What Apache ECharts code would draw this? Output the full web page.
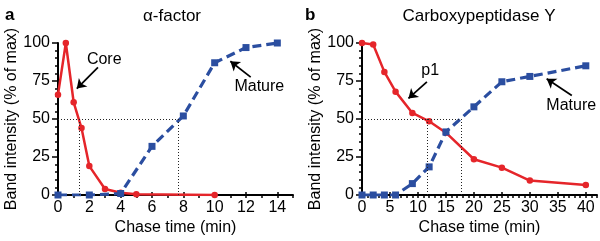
<!DOCTYPE html>
<html>
<head>
<meta charset="utf-8">
<script src="https://cdn.jsdelivr.net/npm/echarts@6/dist/echarts.min.js"></script>
<style>
  html, body { margin: 0; padding: 0; background: #fff; }
  #chart { width: 600px; height: 241px; }
</style>
</head>
<body>
<div id="chart"></div>
<script>
// panel a: alpha-factor
const timeCoreA = [0, 0.5, 1, 1.5, 2, 3, 4, 5, 10];
const coreA = [66, 100, 61, 44, 19, 4, 1.5, 0.5, 0];
const timeMatureA = [0, 2, 4, 6, 8, 10, 12, 14];
const matureA = [0, 0, 1, 32, 52, 87, 97, 100];
// panel b: carboxypeptidase Y
const timeB = [0, 2, 4, 6, 9, 12, 15, 20, 25, 30, 40];
const p1B = [100, 99, 81, 68, 54, 48.5, 41, 23.5, 18, 9.5, 6.5];
const matureB = [0, 0, 0, 0, 7.5, 18.5, 41.5, 58, 74.5, 78, 85];
// time at which each form crosses 50%
const halfA = [1.35, 7.7];
const halfB = [11.6, 17.7];
// tick labels
const xTicksA = [0, 2, 4, 6, 8, 10, 12, 14];
const xTicksB = [0, 5, 10, 15, 20, 25, 30, 35, 40];
const yTicks = [0, 25, 50, 75, 100];

const RED = '#e5252a';
const BLUE = '#2b4ea0';
const FONT = '"Liberation Sans", Arial, Helvetica, sans-serif';

// annotation placement (data coords): text point, arrow start, arrow end
const notesA = [
  { text: 'Core', at: [2.95, 89], from: [2.55, 84], to: [1.2, 70] },
  { text: 'Mature', at: [12.85, 71], from: [12.3, 77.5], to: [11.0, 88] }
];
const notesB = [
  { text: 'p1', at: [12.2, 82], from: [11.6, 74.5], to: [8.3, 63.5] },
  { text: 'Mature', at: [37.4, 58.5], from: [37.5, 65.5], to: [33.0, 76.5] }
];

const toPairs = (xs, ys) => xs.map((x, i) => [x, ys[i]]);

function guideLines(half) {
  const dotted = { color: '#222', width: 1, type: [1, 2] };
  return [
    [{ coord: [0, 50], symbol: 'none', lineStyle: dotted }, { coord: [half[1], 50], symbol: 'none' }],
    [{ coord: [half[0], 0], symbol: 'none', lineStyle: dotted }, { coord: [half[0], 50], symbol: 'none' }],
    [{ coord: [half[1], 0], symbol: 'none', lineStyle: dotted }, { coord: [half[1], 50], symbol: 'none' }]
  ];
}

function arrows(notes) {
  const solid = { color: '#000', width: 1.7, type: 'solid' };
  return notes.map(n => [
    { coord: n.from, symbol: 'none', lineStyle: solid },
    { coord: n.to, symbol: 'arrow', symbolSize: 9 }
  ]);
}

function labels(notes) {
  return notes.map(n => ({ name: n.text, coord: n.at }));
}

function redSeries(data, xi, half) {
  return {
    type: 'line', xAxisIndex: xi, yAxisIndex: xi, data: data,
    symbol: 'circle', symbolSize: 6.5, z: 3,
    lineStyle: { color: RED, width: 2.5 },
    itemStyle: { color: RED },
    markLine: {
      silent: true, animation: false, label: { show: false },
      data: guideLines(half)
    }
  };
}

function blueSeries(data, xi, notes) {
  return {
    type: 'line', xAxisIndex: xi, yAxisIndex: xi, data: data,
    symbol: 'rect', symbolSize: 7, z: 4,
    lineStyle: { color: BLUE, width: 3.2, type: [9, 5] },
    itemStyle: { color: BLUE },
    markLine: {
      silent: true, animation: false, label: { show: false },
      data: arrows(notes)
    },
    markPoint: {
      silent: true, animation: false,
      symbol: 'circle', symbolSize: 0,
      itemStyle: { color: 'transparent' },
      label: { show: true, position: 'inside', formatter: '{b}', color: '#000', fontSize: 16, fontFamily: FONT },
      data: labels(notes)
    }
  };
}

const axisLine = { show: true, lineStyle: { color: '#000', width: 2 } };
const tickStyle = { color: '#000', width: 1.5 };
const labelStyle = { color: '#000', fontSize: 16, fontFamily: FONT };

function mainX(grid, max) {
  return {
    type: 'value', gridIndex: grid, min: 0, max: max, interval: 1,
    axisLine: axisLine,
    axisTick: { show: true, length: 3, lineStyle: tickStyle },
    axisLabel: { show: false },
    splitLine: { show: false }
  };
}

function majorX(grid, max, ticks) {
  return {
    type: 'value', gridIndex: grid, min: 0, max: max,
    axisLine: { show: false },
    axisTick: { show: true, length: 6, customValues: ticks, lineStyle: tickStyle },
    axisLabel: { show: true, customValues: ticks, margin: 7, ...labelStyle },
    splitLine: { show: false },
    name: 'Chase time (min)', nameLocation: 'middle', nameGap: 23,
    nameTextStyle: labelStyle
  };
}

function mainY(grid) {
  return {
    type: 'value', gridIndex: grid, min: yTicks[0], max: yTicks[yTicks.length - 1], interval: 25,
    axisLine: axisLine,
    axisTick: { show: true, length: 6, lineStyle: tickStyle },
    minorTick: { show: true, splitNumber: 5, length: 3, lineStyle: tickStyle },
    axisLabel: { margin: 8, ...labelStyle },
    splitLine: { show: false },
    name: 'Band intensity (% of max)', nameLocation: 'middle', nameGap: 38,
    nameTextStyle: labelStyle
  };
}

function hiddenY(grid) {
  return { type: 'value', gridIndex: grid, min: 0, max: 100, show: false };
}

const titleStyle = { fontSize: 17, fontWeight: 'normal', color: '#000', fontFamily: FONT };
const letterStyle = { fontSize: 17, fontWeight: 'bold', color: '#000', fontFamily: FONT };

const option = {
  animation: false,
  backgroundColor: '#fff',
  textStyle: { fontFamily: FONT },
  title: [
    { text: 'a', left: 0, top: 2, textStyle: letterStyle },
    { text: 'α-factor', left: 167, top: 3, textAlign: 'center', textStyle: titleStyle },
    { text: 'b', left: 300, top: 2, textStyle: letterStyle },
    { text: 'Carboxypeptidase Y', left: 474, top: 3, textAlign: 'center', textStyle: titleStyle }
  ],
  grid: [
    { left: 58, top: 43, width: 235, height: 152 },
    { left: 58, top: 43, width: 235, height: 152 },
    { left: 362, top: 43, width: 235, height: 152 },
    { left: 362, top: 43, width: 235, height: 152 }
  ],
  xAxis: [
    mainX(0, 15), majorX(1, 15, xTicksA),
    mainX(2, 42), majorX(3, 42, xTicksB)
  ],
  yAxis: [mainY(0), hiddenY(1), mainY(2), hiddenY(3)],
  series: [
    redSeries(toPairs(timeCoreA, coreA), 0, halfA),
    blueSeries(toPairs(timeMatureA, matureA), 0, notesA),
    redSeries(toPairs(timeB, p1B), 2, halfB),
    blueSeries(toPairs(timeB, matureB), 2, notesB)
  ]
};

const chart = echarts.init(document.getElementById('chart'), null, { renderer: 'canvas' });
chart.setOption(option);
</script>
</body>
</html>
